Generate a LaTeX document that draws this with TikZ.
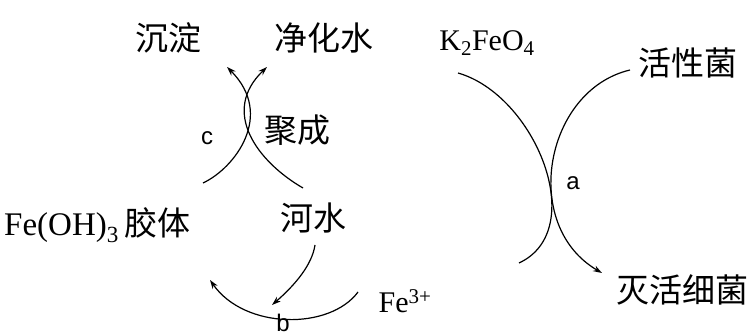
\documentclass[tikz,border=0pt]{standalone}
\usepackage{fontspec}
\setmainfont{Liberation Serif}
\newfontfamily\cjk{Noto Sans CJK SC}
\newfontfamily\lsans{Liberation Sans}
\usetikzlibrary{arrows.meta}
\begin{document}
\begin{tikzpicture}[x=1pt,y=-1pt,
  zh/.style={font=\cjk\fontsize{33}{36}\selectfont, inner sep=0pt},
  chem/.style={font=\fontsize{30}{33}\selectfont, inner sep=0pt},
  lab/.style={font=\lsans\fontsize{24}{26}\selectfont, inner sep=0pt},
  arc/.style={line width=1.2pt},
  arr/.style={arc, -{Stealth[open,length=9pt,width=6pt]}}]
\useasboundingbox (0,0) rectangle (755,336);
% labels
\node[zh] (chendian) at (168,38) {沉淀};
\node[zh] (jinghua) at (324,38) {净化水};
\node[zh] (jucheng) at (297,130) {聚成};
\node[lab] (c) at (207,138) {c};
\node[chem,anchor=west,font=\fontsize{33}{35}\selectfont] (feoh) at (4,225) {Fe(OH)\textsubscript{3}\,{\cjk\fontsize{33}{36}\selectfont 胶体}};
\node[zh] (heshui) at (313,218) {河水};
\node[chem] (fe3) at (405,301) {Fe\textsuperscript{3+}};
\node[lab] (b) at (283,323) {b};
\node[chem] (k2) at (487,43) {K\textsubscript{2}FeO\textsubscript{4}};
\node[zh] (huoxing) at (688,63) {活性菌};
\node[lab] (a) at (573,183) {a};
\node[zh] (miehuo) at (682,290) {灭活细菌};
% c
\coordinate (c1) at (203,183);
\coordinate (c1t) at (227,67);
\coordinate (c2) at (303,188);
\coordinate (c2t) at (267,67);
\draw[arr] (c1) .. controls (235,168) and (275,115) .. (c1t);
\draw[arr] (c2) .. controls (258,162) and (220,112) .. (c2t);
% a
\coordinate (a1) at (458,73);
\coordinate (a1e) at (519,263);
\coordinate (a2) at (630,70);
\coordinate (a2t) at (602,273);
\draw[arc] (a1) .. controls (535,95) and (590,230) .. (a1e);
\draw[arr] (a2) .. controls (545,90) and (520,225) .. (a2t);
% b
\coordinate (b1) at (315,245);
\coordinate (b1t) at (272,305);
\coordinate (b2) at (358,292);
\coordinate (b2t) at (210,280);
\draw[arr] (b1) .. controls (312,265) and (295,285) .. (b1t);
\draw[arr] (b2) .. controls (330,330) and (245,330) .. (b2t);
\end{tikzpicture}
\end{document}
